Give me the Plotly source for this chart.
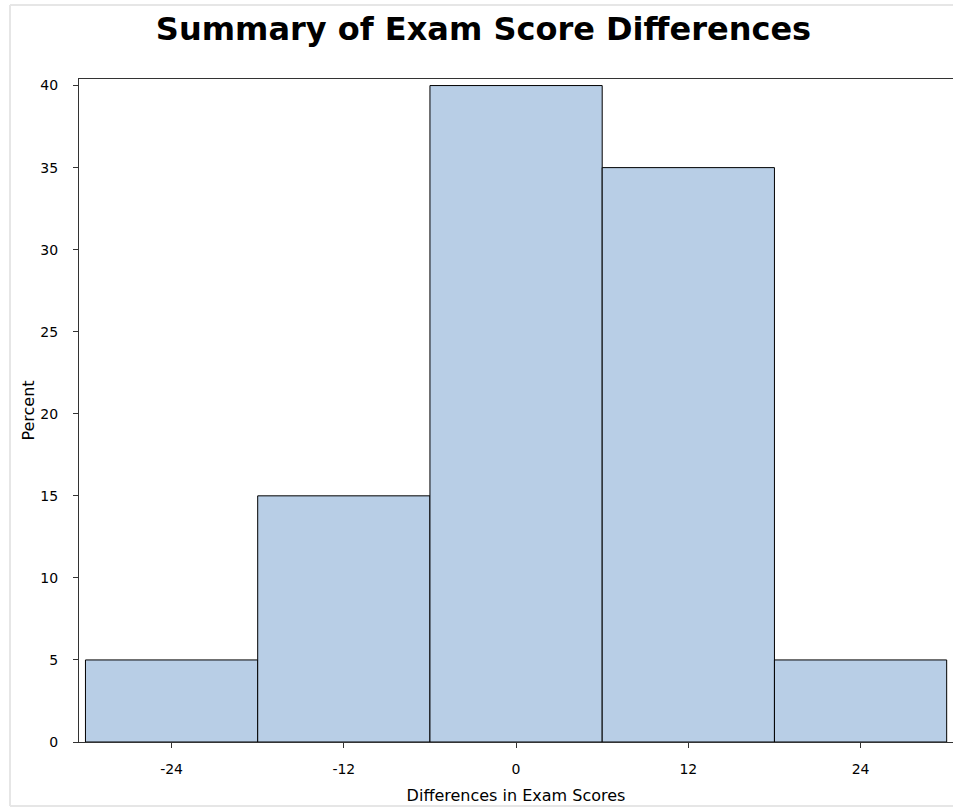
import plotly.graph_objects as go

# Data
bin_centers = [-24, -12, 0, 12, 24]
percents = [5, 15, 40, 35, 5]
x_tick_vals = [-24, -12, 0, 12, 24]
x_tick_text = ["-24", "-12", "0", "12", "24"]
y_tick_vals = [0, 5, 10, 15, 20, 25, 30, 35, 40]

W, H = 953, 808
L, R, T, B = 79, 0, 79, 66

fig = go.Figure()
fig.add_trace(go.Bar(
    x=bin_centers, y=percents, width=12,
    marker=dict(color="#b8cee6", line=dict(color="#000000", width=1)),
    hoverinfo="x+y",
))

def px_x(px):
    return (px - L) / (W - L - R)

def px_y(py):
    return (H - B - py) / (H - T - B)

fig.update_layout(
    width=W, height=H,
    margin=dict(l=L, r=R, t=T, b=B, autoexpand=False),
    paper_bgcolor="white", plot_bgcolor="white",
    showlegend=False,
    title=dict(text="Summary of Exam Score Differences",
               font=dict(family="DejaVu Sans", size=32, color="#000000", weight="bold"),
               x=483.5 / W, xanchor="center", y=1 - 29 / H, yanchor="middle",
               xref="container", yref="container"),
    font=dict(family="DejaVu Sans", color="#000000"),
    xaxis=dict(range=[-30.45, 30.44], tickvals=x_tick_vals, ticktext=x_tick_text,
               showgrid=False, zeroline=False, showline=True, mirror=True,
               linecolor="#333333", linewidth=1, ticks="outside", ticklen=5,
               tickcolor="#333333", tickfont=dict(size=14, color="#000000"),
               ticklabelstandoff=9,
               title=dict(text="Differences in Exam Scores", font=dict(size=16, color="#000000"), standoff=14)),
    yaxis=dict(range=[0, 40.4], tickvals=y_tick_vals,
               showgrid=False, zeroline=False, showline=True, mirror=True,
               linecolor="#333333", linewidth=1, ticks="outside", ticklen=5,
               tickcolor="#333333", tickfont=dict(size=14, color="#000000"),
               ticklabelstandoff=12,
               title=dict(text="Percent", font=dict(size=16, color="#000000"), standoff=1)),
    shapes=[
        dict(type="line", xref="paper", yref="paper", x0=px_x(10), x1=px_x(10),
             y0=px_y(5), y1=px_y(806), line=dict(color="#e6e6e6", width=2), layer="below"),
        dict(type="line", xref="paper", yref="paper", x0=px_x(10), x1=px_x(960),
             y0=px_y(5), y1=px_y(5), line=dict(color="#e6e6e6", width=2), layer="below"),
        dict(type="line", xref="paper", yref="paper", x0=px_x(10), x1=px_x(960),
             y0=px_y(806), y1=px_y(806), line=dict(color="#e6e6e6", width=2), layer="below"),
    ],
)

fig.write_html("out.html", config={"displayModeBar": False},
               post_script="document.body.style.margin='0';document.body.style.overflow='hidden';")
